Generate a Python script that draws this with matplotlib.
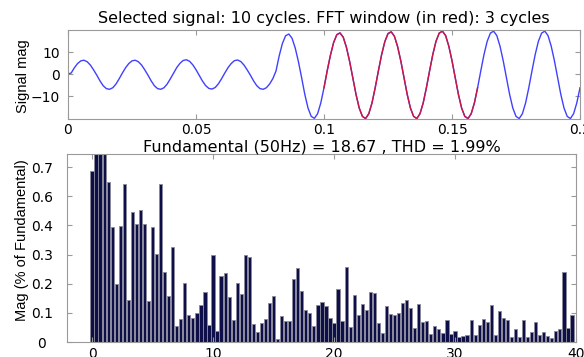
import matplotlib
matplotlib.use('Agg')
import matplotlib.pyplot as plt
import numpy as np

# signal samples, one every 1.25 ms (16 per 50 Hz cycle)
dt = 0.00125
signal = [
    0.0, 0.5, 2.9, 4.8, 6.0, 6.3, 5.6, 4.1, 1.9, -0.5, -3.1, -5.3, -6.6, -6.9, -6.2, -4.5,
    -2.1, 0.5, 2.9, 4.8, 6.0, 6.3, 5.6, 4.1, 1.9, -0.5, -3.1, -5.3, -6.6, -6.9, -6.2, -4.5,
    -2.1, 0.5, 3.0, 4.9, 6.2, 6.5, 5.8, 4.2, 2.0, -0.5, -3.1, -5.2, -6.5, -6.8, -6.1, -4.4,
    -2.1, 0.5, 2.9, 4.8, 6.1, 6.4, 5.7, 4.1, 1.9, -0.5, -3.1, -5.3, -6.6, -6.9, -6.2, -4.5,
    -2.1, 1.4, 8.3, 13.9, 17.4, 18.2, 16.3, 11.9, 5.7, -1.6, -9.2, -15.4, -19.2, -20.1, -18.0, -13.1,
    -6.2, 1.5, 8.5, 14.3, 17.9, 18.7, 16.8, 12.2, 5.8, -1.6, -9.2, -15.4, -19.2, -20.2, -18.0, -13.1,
    -6.2, 1.5, 8.8, 14.7, 18.4, 19.2, 17.2, 12.5, 6.0, -1.6, -9.2, -15.4, -19.2, -20.2, -18.0, -13.1,
    -6.2, 1.5, 8.9, 14.9, 18.6, 19.5, 17.5, 12.7, 6.1, -1.6, -9.2, -15.4, -19.2, -20.2, -18.0, -13.1,
    -6.2, 1.5, 8.9, 14.9, 18.6, 19.5, 17.5, 12.7, 6.1, -1.6, -9.2, -15.4, -19.2, -20.2, -18.0, -13.1,
    -6.2, 1.5, 8.9, 14.9, 18.6, 19.5, 17.5, 12.7, 6.1, -1.6, -9.2, -15.4, -19.2, -20.2, -18.0, -13.1,
    -6.2,
]
win_start, win_end = 0.1, 0.16   # FFT window (3 cycles)

# harmonic spectrum, bins every 1/3 harmonic (values in % of fundamental)
mag = [
    0.685, 0.95, 1.05, 0.90, 0.641, 0.460, 0.233, 0.464, 0.631, 0.168,
    0.520, 0.471, 0.529, 0.472, 0.164, 0.460, 0.352, 0.631, 0.279, 0.185,
    0.381, 0.064, 0.092, 0.236, 0.110, 0.096, 0.118, 0.149, 0.201, 0.069,
    0.347, 0.044, 0.265, 0.277, 0.181, 0.088, 0.235, 0.191, 0.350, 0.341,
    0.072, 0.042, 0.075, 0.092, 0.155, 0.185, 0.013, 0.104, 0.084, 0.084,
    0.253, 0.298, 0.204, 0.127, 0.117, 0.064, 0.150, 0.161, 0.145, 0.095,
    0.078, 0.211, 0.086, 0.300, 0.060, 0.188, 0.107, 0.153, 0.127, 0.199,
    0.196, 0.077, 0.038, 0.143, 0.113, 0.108, 0.116, 0.155, 0.169, 0.137,
    0.055, 0.152, 0.080, 0.083, 0.032, 0.064, 0.052, 0.038, 0.087, 0.031,
    0.044, 0.022, 0.023, 0.030, 0.087, 0.028, 0.067, 0.093, 0.080, 0.150,
    0.027, 0.124, 0.095, 0.088, 0.021, 0.052, 0.020, 0.087, 0.019, 0.040,
    0.079, 0.029, 0.039, 0.024, 0.016, 0.044, 0.053, 0.280, 0.055, 0.110,
]
harm_step = 1 / 3
ytick_labels = ['0', '0.1', '0.2', '0.3', '0.4', '0.6', '0.7']

title_top = 'Selected signal: 10 cycles. FFT window (in red): 3 cycles'
title_bot = 'Fundamental (50Hz) = 18.67 , THD = 1.99%'

spine_col = '#9a9a9a'
lab_font = ['Liberation Sans', 'DejaVu Sans']

fig = plt.figure(figsize=(5.84, 3.57), dpi=100)

# --- top: time signal
ax1 = fig.add_axes([68 / 584, 1 - 119 / 357, 512 / 584, 88.5 / 357])
t = np.arange(len(signal)) * dt
sig = np.array(signal)
ax1.plot(t, sig, color='#4040ff', lw=1.0)
w = (t >= win_start - 1e-9) & (t <= win_end + 1e-9)
ax1.plot(t[w], sig[w], color='#d0143e', lw=1.0)
ax1.set_xlim(0, 0.2)
ax1.set_ylim(-20.4, 19.8)
ax1.set_xticks([0, 0.05, 0.1, 0.15, 0.2])
ax1.set_xticklabels(['0', '0.05', '0.1', '0.15', '0.2'])
ax1.set_yticks([-10, 0, 10])
ax1.set_title(title_top, fontsize=11.5, pad=5.5)
ax1.set_ylabel('Signal mag', fontsize=10.5, family=lab_font)
ax1.yaxis.set_label_coords(-0.074, 0.486)
ax1.tick_params(axis='x', labelsize=10, pad=3.2)
ax1.tick_params(axis='y', labelsize=10, pad=5.8)

# --- bottom: spectrum
ax2 = fig.add_axes([67 / 584, 1 - 342 / 357, 509 / 584, 188.5 / 357])
x = np.arange(len(mag)) * harm_step
ax2.bar(x, mag, width=0.8 * harm_step, color='#0e0e48', edgecolor='#8a8a9a', linewidth=0.6)
ax2.set_xlim(-2.07, 40)
ax2.set_ylim(0, 0.754)
ax2.set_xticks([0, 10, 20, 30, 40])
ax2.set_yticks(np.arange(7) * 0.7 / 6)
ax2.set_yticklabels(ytick_labels)
for lab in ax2.get_yticklabels():
    lab.set_horizontalalignment('center')
ax2.set_title(title_bot, fontsize=11.5, pad=1.2)
ax2.set_ylabel('Mag (% of Fundamental)', fontsize=10.5, family=lab_font)
ax2.yaxis.set_label_coords(-0.074, 0.54)
ax2.tick_params(axis='x', labelsize=10, pad=3.4)
ax2.tick_params(axis='y', labelsize=10, pad=18)

for ax in (ax1, ax2):
    for s in ax.spines.values():
        s.set_color(spine_col)
    ax.tick_params(direction='in', length=3.5, color=spine_col,
                   top=True, right=True, labelcolor='black')

fig.savefig('out.png', dpi=100)
